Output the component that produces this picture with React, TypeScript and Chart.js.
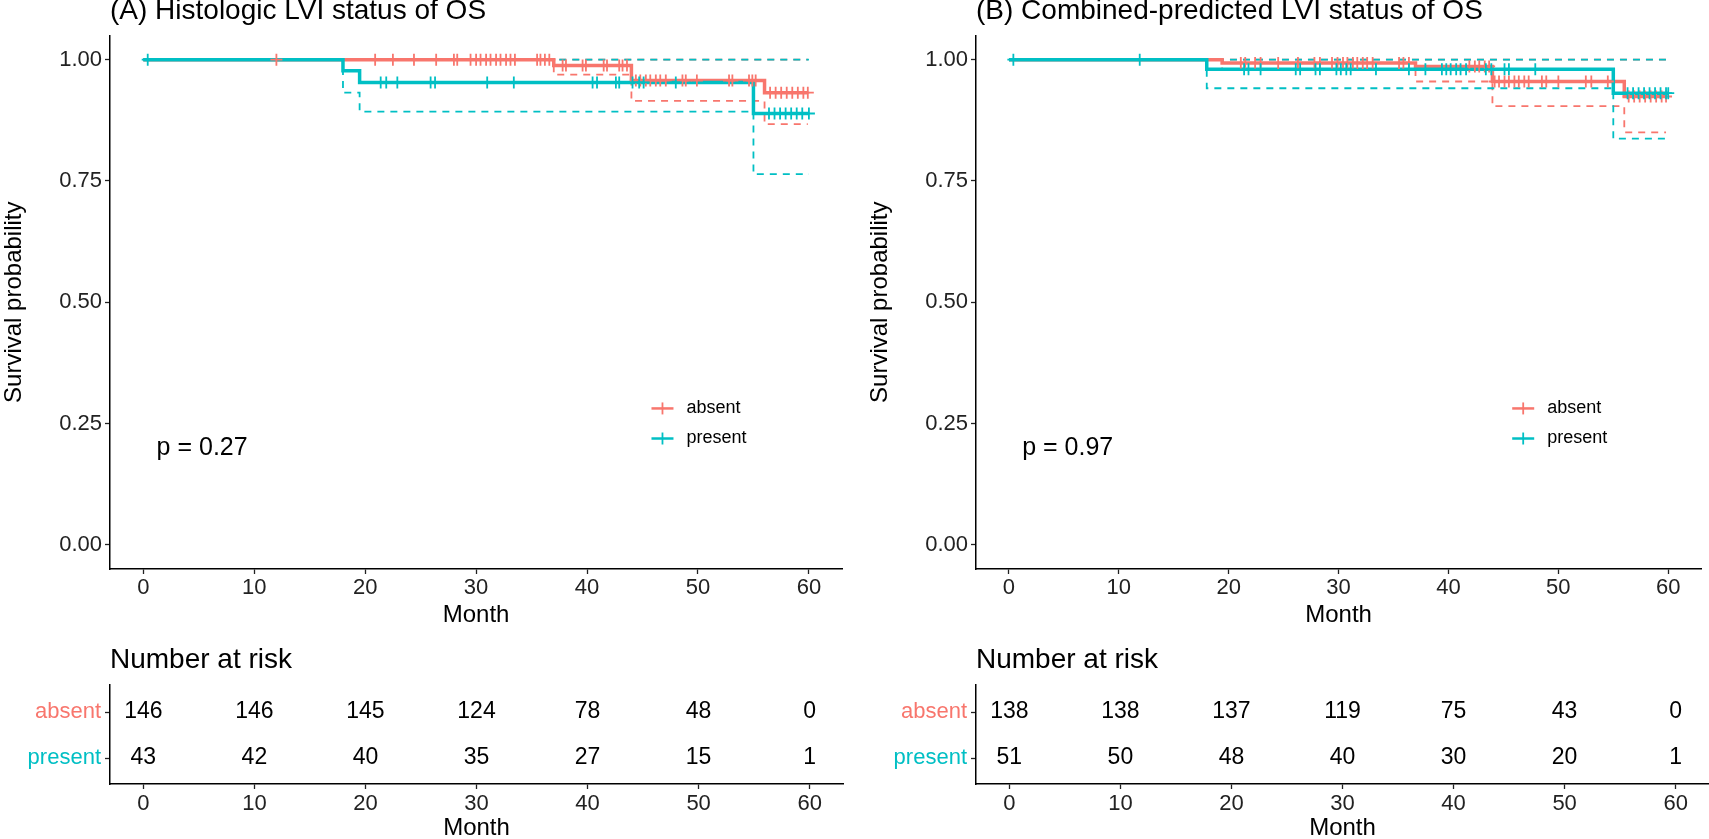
import React, { useEffect, useRef } from 'react';
import { Chart, registerables } from 'chart.js';

Chart.register(...registerables);

const RED = '#F8766D';
const TEAL = '#00BFC4';
const FONT = "'Liberation Sans', Arial, Helvetica, sans-serif";
Chart.defaults.font.family = FONT;

const groups = ['absent', 'present'];
const groupColors = [RED, TEAL];
const monthTicks = [0, 10, 20, 30, 40, 50, 60];
const survTicks = [0, 0.25, 0.5, 0.75, 1];

// ---------- Panel A ----------
const titleA = '(A) Histologic LVI status of OS';
const pValueA = 'p = 0.27';
const A_absent_time = [0, 37, 44, 56, 59.9];
const A_absent_surv = [1, 0.988, 0.957, 0.932, 0.932];
const A_absent_lower = [1, 0.969, 0.915, 0.867, 0.867];
const A_absent_upper = [1, 1, 1, 1, 1];
const A_absent_censor = [12, 20.9, 22.5, 24.4, 26.4, 28.0, 28.3, 29.5, 30.0, 30.4, 30.9, 31.3, 31.8, 32.2, 32.7, 33.1, 33.5, 35.5, 35.8, 36.2, 36.6, 37.8, 38.1, 39.6, 39.9, 41.5, 41.8, 42.9, 43.2, 43.6, 44.4, 44.8, 45.3, 45.7, 46.2, 46.6, 47.1, 48.6, 48.9, 49.9, 52.8, 53.1, 54.6, 54.9, 55.2, 56.5, 57.0, 57.5, 58.0, 58.5, 59.0, 59.5, 59.9];
const A_present_time = [0, 18, 19.5, 55, 60];
const A_present_surv = [1, 0.977, 0.953, 0.889, 0.889];
const A_present_lower = [1, 0.932, 0.893, 0.764, 0.764];
const A_present_upper = [1, 1, 1, 1, 1];
const A_present_censor = [0.4, 21.4, 21.9, 22.9, 25.9, 26.3, 31.0, 33.4, 40.5, 40.9, 42.6, 42.9, 44.1, 44.7, 45.1, 48.0, 56.4, 56.9, 57.4, 57.9, 58.4, 58.9, 59.4, 60.0];
const A_risk_absent = [146, 146, 145, 124, 78, 48, 0];
const A_risk_present = [43, 42, 40, 35, 27, 15, 1];

// ---------- Panel B ----------
const titleB = '(B) Combined-predicted LVI status of OS';
const pValueB = 'p = 0.97';
const B_absent_time = [0, 19.4, 37, 44, 56, 59.8];
const B_absent_surv = [1, 0.993, 0.986, 0.955, 0.924, 0.924];
const B_absent_lower = [1, 0.979, 0.955, 0.904, 0.850, 0.850];
const B_absent_upper = [1, 1, 1, 1, 1, 1];
const B_absent_censor = [21.1, 21.5, 22.4, 22.9, 24.5, 26.3, 27.8, 28.3, 29.4, 29.9, 30.4, 30.8, 31.3, 31.7, 32.2, 32.6, 33.1, 35.5, 35.9, 36.4, 41.9, 42.4, 42.8, 43.3, 43.7, 44.2, 44.6, 45.1, 45.5, 46.0, 46.4, 46.9, 47.3, 48.5, 48.9, 50.0, 52.5, 53.0, 54.5, 56.4, 56.9, 57.4, 57.9, 58.4, 58.9, 59.4, 59.8];
const B_present_time = [0, 18, 55, 60];
const B_present_surv = [1, 0.980, 0.931, 0.931];
const B_present_lower = [1, 0.941, 0.837, 0.837];
const B_present_upper = [1, 1, 1, 1];
const B_present_censor = [0.4, 11.9, 21.4, 21.8, 22.9, 26.1, 26.5, 27.9, 28.3, 29.8, 30.2, 30.7, 31.1, 33.4, 36.4, 37.9, 39.4, 39.8, 40.2, 40.7, 41.1, 41.6, 43.4, 43.9, 45.1, 45.5, 47.9, 56.3, 56.8, 57.3, 57.8, 58.3, 58.8, 59.3, 59.8, 60.0];
const B_risk_absent = [138, 138, 137, 119, 75, 43, 0];
const B_risk_present = [51, 50, 48, 40, 30, 20, 1];

type Curve = { time: number[]; surv: number[]; lower: number[]; upper: number[]; censor: number[]; color: string };

function stepAt(time: number[], surv: number[], t: number) {
  let s = surv[0];
  for (let i = 0; i < time.length; i++) if (time[i] <= t) s = surv[i];
  return s;
}

const pts = (xs: number[], ys: number[]) => xs.map((x, i) => ({ x, y: ys[i] }));

const kmAnnotPlugin = {
  id: 'kmAnnot',
  afterDatasetsDraw(chart: any, _args: any, opts: any) {
    if (!opts || !opts.pText) return;
    const { ctx } = chart;
    const x = chart.scales.x;
    const y = chart.scales.y;
    ctx.save();
    ctx.fillStyle = '#000';
    ctx.textAlign = 'left';
    ctx.textBaseline = 'middle';
    ctx.font = `25px ${FONT}`;
    ctx.fillText(opts.pText, x.getPixelForValue(opts.pX), y.getPixelForValue(opts.pY));
    opts.labels.forEach((lab: string, i: number) => {
      const cx = x.getPixelForValue(opts.legendX);
      const cy = y.getPixelForValue(opts.legendY[i]);
      ctx.strokeStyle = opts.colors[i];
      ctx.lineWidth = 2.5;
      ctx.beginPath();
      ctx.moveTo(cx - 11, cy);
      ctx.lineTo(cx + 11, cy);
      ctx.stroke();
      ctx.lineWidth = 1.8;
      ctx.beginPath();
      ctx.moveTo(cx, cy - 6);
      ctx.lineTo(cx, cy + 6);
      ctx.stroke();
      ctx.font = `18px ${FONT}`;
      ctx.fillStyle = '#000';
      ctx.fillText(lab, cx + 24, cy);
    });
    ctx.restore();
  },
};

const riskLabelPlugin = {
  id: 'riskLabels',
  afterDatasetsDraw(chart: any) {
    const { ctx } = chart;
    ctx.save();
    ctx.font = `23px ${FONT}`;
    ctx.fillStyle = '#000';
    ctx.textAlign = 'center';
    ctx.textBaseline = 'middle';
    chart.data.datasets.forEach((ds: any, di: number) => {
      const meta = chart.getDatasetMeta(di);
      meta.data.forEach((el: any, i: number) => {
        ctx.fillText(String(ds.data[i].n), el.x, el.y);
      });
    });
    ctx.restore();
  },
};

const axisBase = {
  grid: { drawOnChartArea: false, tickLength: 5, tickWidth: 1.3, tickColor: '#222' },
  border: { display: true, color: '#000', width: 1.5 },
};

function xScale(height: number, tickPad: number) {
  return {
    type: 'linear',
    min: -3,
    max: 63,
    afterBuildTicks: (s: any) => { s.ticks = monthTicks.map((v) => ({ value: v })); },
    afterFit: (s: any) => { s.height = height; },
    ...axisBase,
    ticks: { font: { size: 22 }, color: '#222', padding: tickPad, maxRotation: 0, autoSkip: false },
    title: { display: true, text: 'Month', font: { size: 24 }, color: '#000', padding: 0 },
  };
}

function kmConfig(title: string, pText: string, curves: Curve[], padRight: number) {
  const datasets: any[] = [];
  const rev = [...curves].reverse();
  rev.forEach((c) => datasets.push({
    data: c.censor.map((t) => ({ x: t, y: stepAt(c.time, c.surv, t) })),
    showLine: false, pointStyle: 'cross', pointRadius: 6, pointHoverRadius: 6,
    pointBorderWidth: 1.8, borderColor: c.color, backgroundColor: c.color,
  }));
  rev.forEach((c) => datasets.push({
    data: pts(c.time, c.surv), stepped: true, borderColor: c.color, borderWidth: 3.5,
    pointRadius: 0, fill: false,
  }));
  rev.forEach((c) => {
    datasets.push({ data: pts(c.time, c.lower), stepped: true, borderColor: c.color, borderWidth: 1.8, borderDash: [7, 6], pointRadius: 0, fill: false });
    datasets.push({ data: pts(c.time, c.upper), stepped: true, borderColor: c.color, borderWidth: 1.8, borderDash: [7, 6], pointRadius: 0, fill: false });
  });
  return {
    type: 'line',
    data: { datasets },
    plugins: [kmAnnotPlugin],
    options: {
      animation: false,
      responsive: false,
      devicePixelRatio: 1,
      events: [],
      layout: { padding: { left: 0, right: padRight, top: 0, bottom: 0 } },
      plugins: {
        legend: { display: false },
        tooltip: { enabled: false },
        title: {
          display: true, text: title, align: 'start', fullSize: false, color: '#000',
          font: { size: 28, weight: 'normal', lineHeight: 0.8 }, padding: { top: 0, bottom: 13 },
        },
        kmAnnot: {
          pText, pX: 1.2, pY: 0.2,
          labels: groups, colors: groupColors, legendX: 46.8, legendY: [0.281, 0.219],
        },
      },
      scales: {
        x: xScale(61, 1),
        y: {
          type: 'linear', min: -0.05, max: 1.05,
          afterBuildTicks: (s: any) => { s.ticks = survTicks.map((v) => ({ value: v })); },
          afterFit: (s: any) => { s.width = 110; },
          ...axisBase,
          ticks: { font: { size: 22 }, color: '#222', padding: 3, callback: (v: any) => Number(v).toFixed(2) },
          title: { display: true, text: 'Survival probability', font: { size: 24 }, color: '#000', padding: 0 },
        },
      },
    },
  };
}

function riskConfig(absent: number[], present: number[], padRight: number) {
  const rows = [absent, present];
  const datasets = rows.map((r, gi) => ({
    data: r.map((n, i) => ({ x: monthTicks[i], y: gi, n })),
    showLine: false, pointRadius: 0, borderColor: 'transparent',
  }));
  return {
    type: 'line',
    data: { datasets },
    plugins: [riskLabelPlugin],
    options: {
      animation: false,
      responsive: false,
      devicePixelRatio: 1,
      events: [],
      layout: { padding: { left: 0, right: padRight, top: 0, bottom: 0 } },
      plugins: {
        legend: { display: false },
        tooltip: { enabled: false },
        title: {
          display: true, text: 'Number at risk', align: 'start', fullSize: false, color: '#000',
          font: { size: 28, weight: 'normal', lineHeight: 1.2 }, padding: { top: 3, bottom: 8.4 },
        },
      },
      scales: {
        x: xScale(59, 2),
        y: {
          type: 'linear', min: -0.587, max: 1.565, reverse: true,
          afterBuildTicks: (s: any) => { s.ticks = groups.map((_g, i) => ({ value: i })); },
          afterFit: (s: any) => { s.width = 110; },
          ...axisBase,
          ticks: {
            font: { size: 22 }, padding: 4,
            callback: (_v: any, i: number) => groups[i],
            color: (ctx: any) => groupColors[ctx.index] || '#000',
          },
        },
      },
    },
  };
}

function ChartCanvas({ make, left, top, width, height }: any) {
  const ref = useRef<HTMLCanvasElement | null>(null);
  useEffect(() => {
    const chart = new Chart(ref.current as HTMLCanvasElement, make() as any);
    return () => chart.destroy();
  }, []);
  return (
    <canvas ref={ref} width={width} height={height}
      style={{ position: 'absolute', left, top, width, height }} />
  );
}

const curvesA: Curve[] = [
  { time: A_absent_time, surv: A_absent_surv, lower: A_absent_lower, upper: A_absent_upper, censor: A_absent_censor, color: RED },
  { time: A_present_time, surv: A_present_surv, lower: A_present_lower, upper: A_present_upper, censor: A_present_censor, color: TEAL },
];
const curvesB: Curve[] = [
  { time: B_absent_time, surv: B_absent_surv, lower: B_absent_lower, upper: B_absent_upper, censor: B_absent_censor, color: RED },
  { time: B_present_time, surv: B_present_surv, lower: B_present_lower, upper: B_present_upper, censor: B_present_censor, color: TEAL },
];

export default function App() {
  useEffect(() => {
    document.body.style.margin = '0';
  }, []);
  return (
    <div style={{ position: 'relative', width: 1709, height: 839, overflow: 'hidden', background: '#fff' }}>
      <ChartCanvas make={() => kmConfig(titleA, pValueA, curvesA, 7)} left={0} top={0} width={850} height={630} />
      <ChartCanvas make={() => kmConfig(titleB, pValueB, curvesB, 0)} left={866} top={0} width={843} height={630} />
      <ChartCanvas make={() => riskConfig(A_risk_absent, A_risk_present, 7)} left={0} top={640} width={850} height={203} />
      <ChartCanvas make={() => riskConfig(B_risk_absent, B_risk_present, 0)} left={866} top={640} width={843} height={203} />
    </div>
  );
}
